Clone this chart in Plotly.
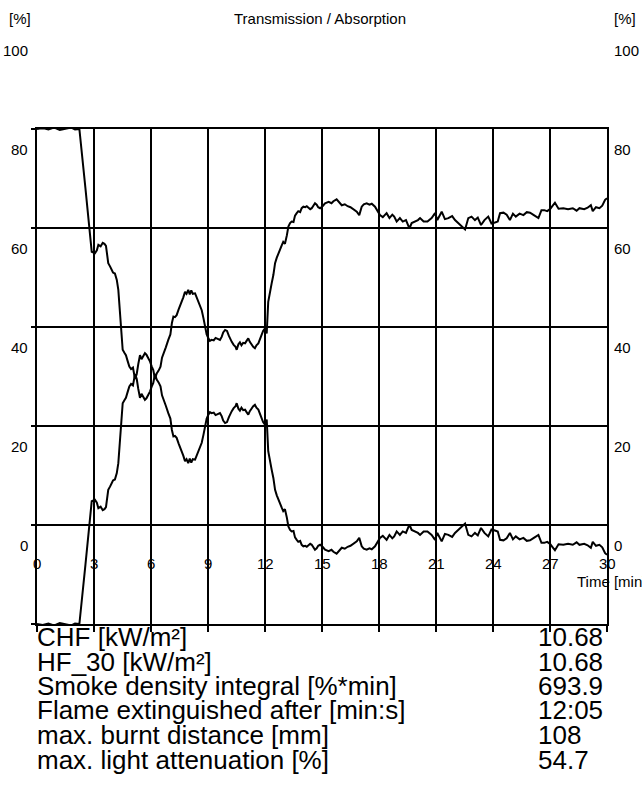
import plotly.graph_objects as go

# ---------------- data ----------------
TIME_MIN = [
    0, 0.3, 0.6, 0.9, 1.2, 1.5, 1.8, 2.0, 2.23, 2.55,
    2.88, 3.05, 3.15, 3.23, 3.35, 3.46, 3.55, 3.63, 3.75, 3.85,
    3.93, 4.0, 4.1, 4.2, 4.28, 4.4, 4.51, 4.6, 4.68, 4.78,
    4.86, 4.95, 5.05, 5.16, 5.25, 5.33, 5.42, 5.5, 5.58, 5.68,
    5.76, 5.86, 5.95, 6.04, 6.12, 6.21, 6.3, 6.4, 6.5, 6.58,
    6.65, 6.78, 6.91, 7.02, 7.1, 7.18, 7.26, 7.35, 7.45, 7.52,
    7.61, 7.7, 7.79, 7.87, 7.96, 8.04, 8.12, 8.2, 8.32, 8.4,
    8.49, 8.58, 8.67, 8.76, 8.84, 8.93, 9.02, 9.1, 9.19, 9.3,
    9.4, 9.5, 9.63, 9.72, 9.8, 9.9, 10.0, 10.1, 10.18, 10.25,
    10.35, 10.45, 10.51, 10.6, 10.68, 10.76, 10.85, 10.95, 11.03, 11.12,
    11.2, 11.3, 11.38, 11.47, 11.55, 11.65, 11.75, 11.82, 11.9, 12.0,
    12.09, 12.17, 12.25, 12.35, 12.44, 12.53, 12.62, 12.7, 12.8, 12.88,
    12.96, 13.05, 13.15, 13.23, 13.32, 13.4, 13.5, 13.58, 13.67, 13.75,
    13.85, 13.93, 14.02, 14.12, 14.2, 14.3, 14.38, 14.46, 14.55, 14.63,
    14.72, 14.8, 14.9, 15.03, 15.16, 15.35, 15.5, 15.6, 15.77, 15.9,
    16.04, 16.2, 16.35, 16.5, 16.66, 16.83, 16.96, 17.09, 17.2, 17.35,
    17.5, 17.62, 17.79, 17.92, 18.05, 18.2, 18.4, 18.55, 18.7, 18.8,
    18.93, 19.1, 19.25, 19.42, 19.6, 19.72, 19.9, 20.05, 20.16, 20.35,
    20.55, 20.77, 20.95, 21.07, 21.3, 21.47, 21.65, 21.85, 22.0, 22.2,
    22.35, 22.53, 22.7, 22.87, 23.05, 23.2, 23.37, 23.55, 23.75, 23.92,
    24.1, 24.25, 24.37, 24.55, 24.72, 24.89, 25.05, 25.2, 25.4, 25.6,
    25.78, 25.95, 26.15, 26.39, 26.55, 26.7, 26.85, 27.0, 27.26, 27.45,
    27.7, 27.95, 28.2, 28.4, 28.55, 28.8, 28.98, 29.15, 29.25, 29.42,
    29.6, 29.75, 29.9, 30.0,
]

TRANSMISSION = [
    100, 100.2, 99.9, 100.3, 99.8, 100.1, 100.3, 99.9, 100, 88,
    75.2, 74.9, 75.5, 76.6, 76.3, 77.0, 76.8, 76.4, 72.9, 72.2,
    71.5, 71.0, 70.8, 69.5, 67.5, 62.1, 55.4, 54.8, 54.3, 53.0,
    52.0, 51.5, 51.8, 49.5, 50.5, 52.5, 54.3, 53.5, 54.2, 54.7,
    54.4, 53.7, 53.0, 52.0, 51.3, 49.5, 50.6, 51.2, 52.0, 53.8,
    54.7, 55.9, 57.4, 58.5, 60.8, 62.1, 62.0, 62.4, 63.5, 64.1,
    65.1, 66.0, 67.1, 66.7, 67.5, 66.6, 67.4, 66.7, 66.8, 66.0,
    65.5, 64.5, 63.4, 61.8, 60.1, 58.5, 57.7, 57.2, 57.4, 57.3,
    57.8, 57.6, 57.4, 58.0, 58.9, 59.4, 59.2, 58.2, 57.5, 57.0,
    56.4, 56.0, 55.4, 56.5, 56.9, 56.3, 56.8, 56.7, 57.2, 57.7,
    57.0, 56.4, 56.0, 55.7, 56.3, 56.7, 57.8, 58.7, 59.2, 59.7,
    58.7, 65.1, 67.0, 68.8, 70.5, 72.9, 74.0, 74.9, 76.0, 76.5,
    77.2, 76.8, 78.5, 80.3, 81.0, 81.3, 81.2, 82.5, 83.0, 83.4,
    83.2, 84.0, 84.3, 84.2, 84.4, 84.0, 83.8, 84.0, 84.6, 85.0,
    84.7, 84.2, 84.0, 84.4, 85.0, 85.3, 85.0, 85.4, 85.8, 85.2,
    84.6, 84.8, 84.4, 84.2, 83.8, 83.3, 82.6, 84.3, 84.8, 85.0,
    84.7, 84.9, 84.3, 83.5, 82.6, 82.2, 83.0, 82.0, 82.7, 82.3,
    81.3, 82.0, 81.3, 81.6, 79.9, 81.0, 81.3, 81.6, 82.0, 81.3,
    81.3, 82.0, 83.0, 81.6, 83.3, 81.8, 82.0, 82.4, 81.6, 80.9,
    80.3, 79.7, 82.0, 82.3, 81.6, 82.1, 80.6, 81.6, 82.3, 80.9,
    81.1, 81.3, 83.0, 83.1, 82.7, 81.6, 82.9, 82.3, 82.9, 82.6,
    83.2, 83.1, 82.6, 82.0, 83.6, 83.6, 83.4, 83.8, 85.1, 83.9,
    84.0, 83.8, 84.0, 83.5, 84.0, 83.8, 84.1, 84.6, 83.4, 84.2,
    84.0, 84.5, 85.7, 86.0,
]

ABSORPTION = [
    0, -0.2, 0.1, -0.3, 0.2, -0.1, -0.3, 0.1, 0, 12,
    24.8, 25.1, 24.5, 23.4, 23.7, 23.0, 23.2, 23.6, 27.1, 27.8,
    28.5, 29.0, 29.2, 30.5, 32.5, 37.9, 44.6, 45.2, 45.7, 47.0,
    48.0, 48.5, 48.2, 50.5, 49.5, 47.5, 45.7, 46.5, 45.8, 45.3,
    45.6, 46.3, 47.0, 48.0, 48.7, 50.5, 49.4, 48.8, 48.0, 46.2,
    45.3, 44.1, 42.6, 41.5, 39.2, 37.9, 38.0, 37.6, 36.5, 35.9,
    34.9, 34.0, 32.9, 33.3, 32.5, 33.4, 32.6, 33.3, 33.2, 34.0,
    34.5, 35.5, 36.6, 38.2, 39.9, 41.5, 42.3, 42.8, 42.6, 42.7,
    42.2, 42.4, 42.6, 42.0, 41.1, 40.6, 40.8, 41.8, 42.5, 43.0,
    43.6, 44.0, 44.6, 43.5, 43.1, 43.7, 43.2, 43.3, 42.8, 42.3,
    43.0, 43.6, 44.0, 44.3, 43.7, 43.3, 42.2, 41.3, 40.8, 40.3,
    41.3, 34.9, 33.0, 31.2, 29.5, 27.1, 26.0, 25.1, 24.0, 23.5,
    22.8, 23.2, 21.5, 19.7, 19.0, 18.7, 18.8, 17.5, 17.0, 16.6,
    16.8, 16.0, 15.7, 15.8, 15.6, 16.0, 16.2, 16.0, 15.4, 15.0,
    15.3, 15.8, 16.0, 15.6, 15.0, 14.7, 15.0, 14.6, 14.2, 14.8,
    15.4, 15.2, 15.6, 15.8, 16.2, 16.7, 17.4, 15.7, 15.2, 15.0,
    15.3, 15.1, 15.7, 16.5, 17.4, 17.8, 17.0, 18.0, 17.3, 17.7,
    18.7, 18.0, 18.7, 18.4, 20.1, 19.0, 18.7, 18.4, 18.0, 18.7,
    18.7, 18.0, 17.0, 18.4, 16.7, 18.2, 18.0, 17.6, 18.4, 19.1,
    19.7, 20.3, 18.0, 17.7, 18.4, 17.9, 19.4, 18.4, 17.7, 19.1,
    18.9, 18.7, 17.0, 16.9, 17.3, 18.4, 17.1, 17.7, 17.1, 17.4,
    16.8, 16.9, 17.4, 18.0, 16.4, 16.4, 16.6, 16.2, 14.9, 16.1,
    16.0, 16.2, 16.0, 16.5, 16.0, 16.2, 15.9, 15.4, 16.6, 15.8,
    16.0, 15.5, 14.3, 14.0,
]

X_TICKS = [0, 3, 6, 9, 12, 15, 18, 21, 24, 27, 30]
Y_TICKS = [0, 20, 40, 60, 80, 100]
Y_TICK_LABELS = ["0", "20", "40", "60", "80", "100"]

TITLE = "Transmission / Absorption"
Y_UNIT = "[%]"
X_TITLE = "Time [min]"

RESULT_NAMES = [
    "CHF [kW/m²]",
    "HF_30 [kW/m²]",
    "Smoke density integral [%*min]",
    "Flame extinguished after [min:s]",
    "max. burnt distance [mm]",
    "max. light attenuation [%]",
]
RESULT_VALUES = ["10.68", "10.68", "693.9", "12:05", "108", "54.7"]

# ---------------- layout helpers (page pixel coordinates) ----------------
FONT = "Liberation Sans, Arial, sans-serif"
W, H = 642, 789
PLOT_L, PLOT_R, PLOT_T, PLOT_B = 37, 607, 129, 624   # frame edges
ML, MT = PLOT_L, PLOT_T
MR, MB = W - PLOT_R, H - PLOT_B
PW = PLOT_R - PLOT_L
PH = PLOT_B - PLOT_T


def px(x):
    return (x - PLOT_L) / PW


def py(y):
    return (PLOT_B - y) / PH


LABEL_SHIFT_PX = 79  # tick labels in the original sit above their lines

fig = go.Figure()
for series in (TRANSMISSION, ABSORPTION):
    fig.add_trace(go.Scatter(
        x=TIME_MIN, y=series, mode="lines",
        line=dict(color="black", width=2),
        hoverinfo="skip", showlegend=False,
    ))

ann = []
small = dict(family=FONT, size=15, color="black")
big = dict(family=FONT, size=26, color="black")

# y labels left / right
for v, t in zip(Y_TICKS, Y_TICK_LABELS):
    yy = py(PLOT_B - v / 100 * PH - LABEL_SHIFT_PX)
    ann.append(dict(xref="paper", yref="paper", x=px(30), y=yy,
                    text=t, xanchor="right", yanchor="middle",
                    showarrow=False, font=small))
    ann.append(dict(xref="paper", yref="paper", x=px(612), y=yy,
                    text=t, xanchor="left", yanchor="middle",
                    showarrow=False, font=small))
# x labels inside plot
for v in X_TICKS:
    ann.append(dict(xref="x", yref="paper", x=v, y=py(563),
                    text=str(v), xanchor="center", yanchor="middle",
                    showarrow=False, font=small))
ann.append(dict(xref="paper", yref="paper", x=px(575), y=py(581),
                text=X_TITLE, xanchor="left", yanchor="middle",
                showarrow=False, font=small))
# top texts
ann.append(dict(xref="paper", yref="paper", x=px(7), y=py(19), text=Y_UNIT,
                xanchor="left", yanchor="middle", showarrow=False, font=small))
ann.append(dict(xref="paper", yref="paper", x=px(612), y=py(19), text=Y_UNIT,
                xanchor="left", yanchor="middle", showarrow=False, font=small))
ann.append(dict(xref="paper", yref="paper", x=px(320), y=py(19), text=TITLE,
                xanchor="center", yanchor="middle", showarrow=False, font=small))
# results table
row_y = [637, 662, 686, 710, 735, 760]
for yy, name, val in zip(row_y, RESULT_NAMES, RESULT_VALUES):
    ann.append(dict(xref="paper", yref="paper", x=px(35), y=py(yy), text=name,
                    xanchor="left", yanchor="middle", showarrow=False, font=big))
    ann.append(dict(xref="paper", yref="paper", x=px(536), y=py(yy), text=val,
                    xanchor="left", yanchor="middle", showarrow=False, font=big))

axis_common = dict(
    showgrid=True, gridcolor="black", gridwidth=2,
    showline=True, linecolor="black", linewidth=2, mirror=True,
    ticks="outside", tickcolor="black", tickwidth=2,
    showticklabels=False, zeroline=False, fixedrange=True,
)

fig.update_layout(
    width=W, height=H,
    margin=dict(l=ML, r=MR, t=MT, b=MB, pad=0),
    paper_bgcolor="white", plot_bgcolor="white",
    showlegend=False,
    xaxis=dict(range=[0, 30], tickmode="array", tickvals=X_TICKS, ticklen=6,
               **axis_common),
    yaxis=dict(range=[0, 100], tickmode="array", tickvals=Y_TICKS, ticklen=4,
               **axis_common),
    annotations=ann,
    font=dict(family=FONT, color="black"),
)

# remove the default page margin so the 642x789 figure fills the window
fig.write_html(
    "out.html",
    config={"displayModeBar": False, "staticPlot": True},
    post_script="document.body.style.margin='0';"
                "document.body.style.overflow='hidden';",
)
